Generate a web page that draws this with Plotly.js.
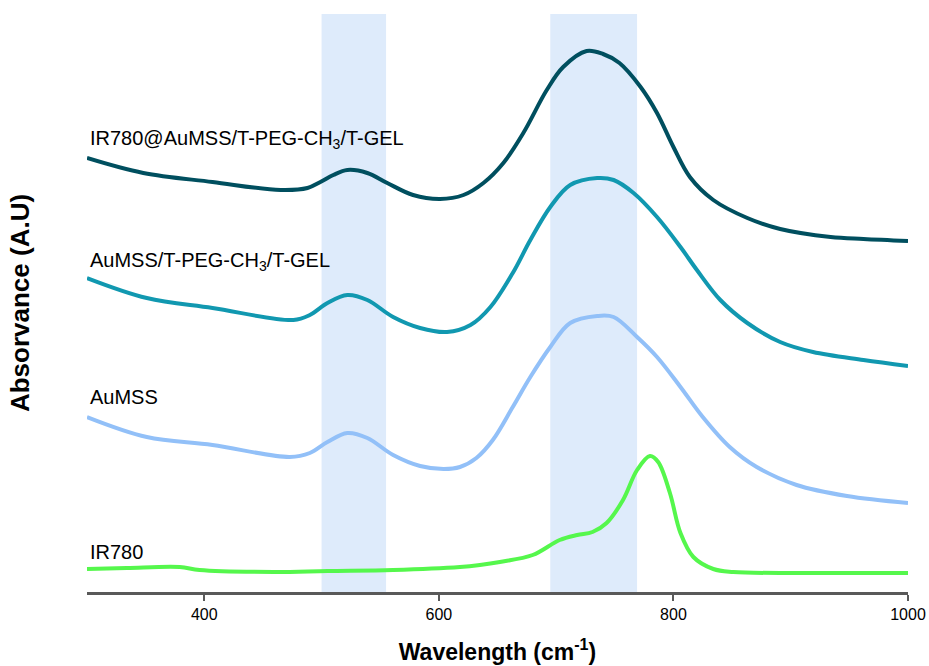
<!DOCTYPE html>
<html>
<head>
<meta charset="utf-8">
<script src="https://cdn.plot.ly/plotly-3.0.1.min.js"></script>
<style>html,body{margin:0;padding:0;background:#fff;}#chart{width:929px;height:666px;}</style>
</head>
<body>
<div id="chart"></div>
<script>
// Wavelength values and absorbance (arbitrary, offset)
const x_ir780gel = [300,348,407,465,488,499,510,522,539,556,578,601,621,638,655,672,692,706,726,740,754,772,786,800,814,834,863,891,934,962,1000];
const y_ir780gel = [4.34,4.19,4.10,4.02,4.04,4.10,4.17,4.22,4.19,4.09,3.97,3.93,3.97,4.09,4.29,4.59,5.02,5.25,5.41,5.38,5.29,5.05,4.79,4.45,4.15,3.92,3.74,3.63,3.55,3.53,3.51];

const x_aumssgel = [300,351,407,476,490,505,522,539,561,584,607,627,644,663,678,695,712,735,749,766,786,806,820,840,863,891,919,962,1000];
const y_aumssgel = [3.14,2.94,2.84,2.72,2.77,2.89,2.97,2.92,2.75,2.64,2.60,2.67,2.85,3.19,3.52,3.85,4.07,4.14,4.12,3.99,3.75,3.45,3.22,2.92,2.69,2.50,2.40,2.32,2.26];

const x_aumss = [300,351,407,473,490,505,522,539,561,584,604,618,632,646,663,678,695,712,735,749,769,786,806,825,848,871,905,948,1000];
const y_aumss = [1.75,1.55,1.47,1.35,1.39,1.50,1.59,1.54,1.37,1.26,1.23,1.25,1.34,1.52,1.85,2.15,2.45,2.69,2.76,2.75,2.55,2.35,2.05,1.75,1.45,1.25,1.07,0.96,0.89];

const x_ir780 = [300,334,379,396,459,505,561,618,635,652,680,703,718,731,743,757,769,780,787,797,806,817,834,851,908,1000];
const y_ir780 = [0.23,0.24,0.25,0.22,0.20,0.21,0.22,0.25,0.27,0.30,0.37,0.52,0.57,0.60,0.69,0.92,1.22,1.36,1.30,0.99,0.59,0.35,0.23,0.20,0.19,0.19];

const seriesNames = ["IR780@AuMSS/T-PEG-CH<sub>3</sub>/T-GEL", "AuMSS/T-PEG-CH<sub>3</sub>/T-GEL", "AuMSS", "IR780"];
const labelY = [4.53, 3.31, 1.95, 0.40];
const labelX = 300.5;
const bands = [[500, 555], [695, 769]];
const colors = ["#004f5f", "#1198b0", "#92c0f8", "#55f74c"];

const xs = [x_ir780gel, x_aumssgel, x_aumss, x_ir780];
const ys = [y_ir780gel, y_aumssgel, y_aumss, y_ir780];

const traces = xs.map((x, i) => ({
  x: x, y: ys[i], type: 'scatter', mode: 'lines',
  name: seriesNames[i],
  line: {color: colors[i], width: 4, shape: 'spline', smoothing: 1.0},
  hoverinfo: 'skip'
}));

const font = 'Liberation Sans, Arial, sans-serif';

const layout = {
  width: 929, height: 666,
  margin: {l: 87, r: 21, t: 14, b: 74},
  paper_bgcolor: '#ffffff', plot_bgcolor: '#ffffff',
  showlegend: false,
  font: {family: font, color: '#000'},
  xaxis: {
    range: [300, 1000], dtick: 200, tick0: 0,
    showgrid: false, zeroline: false,
    showline: true, linecolor: '#595959', linewidth: 2.5,
    ticks: 'outside', ticklen: 6, tickwidth: 2, tickcolor: '#595959',
    tickfont: {family: font, size: 16, color: '#000'},
    title: {text: '<b>Wavelength (cm<sup>-1</sup>)</b>', font: {family: font, size: 23, color: '#000'}, standoff: 22}
  },
  yaxis: {
    range: [0, 5.78],
    showgrid: false, zeroline: false, showline: false,
    showticklabels: false, ticks: '',
    title: {text: '<b>Absorvance (A.U)</b>', font: {family: font, size: 26, color: '#000'}, standoff: 48}
  },
  shapes: bands.map(b => ({
    type: 'rect', xref: 'x', yref: 'paper', x0: b[0], x1: b[1], y0: 0, y1: 1,
    fillcolor: '#deebfb', line: {width: 0}, layer: 'below'
  })),
  annotations: seriesNames.map((t, i) => ({
    text: t, x: labelX, y: labelY[i], xref: 'x', yref: 'y',
    xanchor: 'left', yanchor: 'middle', showarrow: false,
    font: {family: font, size: 20, color: '#000'}
  }))
};

Plotly.newPlot('chart', traces, layout, {displayModeBar: false, staticPlot: true});
</script>
</body>
</html>
